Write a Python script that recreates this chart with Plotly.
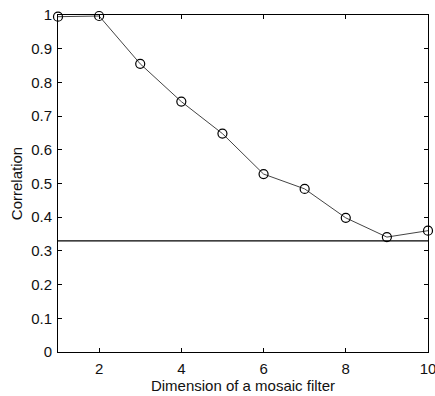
import plotly.graph_objects as go

dims = [1, 2, 3, 4, 5, 6, 7, 8, 9, 10]
corr = [0.995, 0.997, 0.855, 0.743, 0.648, 0.528, 0.484, 0.398, 0.341, 0.360]
baseline = 0.33
x_ticks = [2, 4, 6, 8, 10]
y_ticks = [0, 0.1, 0.2, 0.3, 0.4, 0.5, 0.6, 0.7, 0.8, 0.9, 1]
y_tick_text = ["0", "0.1", "0.2", "0.3", "0.4", "0.5", "0.6", "0.7", "0.8", "0.9", "1"]

FONT = dict(family="Liberation Sans, Arial", size=15, color="#111111")

fig = go.Figure()
fig.add_trace(go.Scatter(
    x=[1, 10], y=[baseline, baseline], mode="lines",
    line=dict(color="black", width=1.3), showlegend=False, hoverinfo="skip"))
fig.add_trace(go.Scatter(
    x=dims, y=corr, mode="lines+markers",
    line=dict(color="#444444", width=1),
    marker=dict(symbol="circle-open", size=9, color="black", line=dict(width=1.2)),
    showlegend=False, cliponaxis=False))

axis_common = dict(
    showgrid=False, zeroline=False, showline=True, linecolor="black", linewidth=1,
    mirror="ticks", ticks="inside", ticklen=4, tickcolor="black",
    tickfont=FONT, ticklabeloverflow="allow",
)
fig.update_xaxes(range=[1, 10], tickvals=x_ticks, ticklabelstandoff=3,
                 title=dict(text="Dimension of a mosaic filter", font=FONT, standoff=3),
                 **axis_common)
fig.update_yaxes(range=[0, 1], tickvals=y_ticks, ticktext=y_tick_text, ticklabelstandoff=2,
                 title=dict(text="Correlation", font=FONT, standoff=4),
                 **axis_common)

fig.update_layout(
    width=435, height=396,
    margin=dict(l=58, r=7, t=15, b=44, autoexpand=False),
    plot_bgcolor="white", paper_bgcolor="white",
)
fig.write_html("out.html")
